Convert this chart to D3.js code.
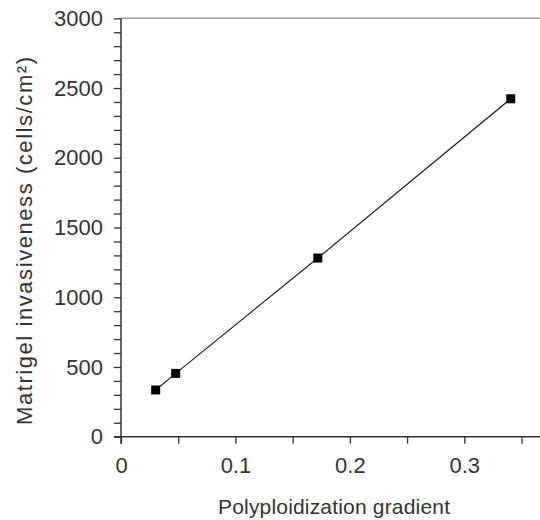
<!DOCTYPE html>
<html>
<head>
<meta charset="utf-8">
<script src="https://cdn.jsdelivr.net/npm/d3@7"></script>
<style>
    body { margin: 0; background: #fff; }
    text { font-family: "Liberation Sans", Arial, sans-serif; fill: #333; }
</style>
</head>
<body>
<div id="chart"></div>
<script>
// values
var gradient = [0.0303, 0.0478, 0.172, 0.3406];
var invasiveness = [335, 454, 1281, 2423];
var xTicks = [0, 0.05, 0.1, 0.15, 0.2, 0.25, 0.3, 0.35];
var xTickLabels = ["0", "", "0.1", "", "0.2", "", "0.3", ""];
var yTicks = d3.range(0, 3001, 100);
var yLabelEvery = 500;
var xTitle = "Polyploidization gradient";
var yTitle = "Matrigel invasiveness (cells/cm\u00b2)";

var width = 540, height = 520;

var svg = d3.select("#chart").append("svg")
    .attr("width", width)
    .attr("height", height);

var xscale = d3.scaleLinear().domain([0, 0.35]).range([121, 521.5]);
var yscale = d3.scaleLinear().domain([0, 3000]).range([436.7, 18.3]);

// top frame line
svg.append("line")
    .attr("x1", xscale(0)).attr("x2", width)
    .attr("y1", yscale(3000)).attr("y2", yscale(3000))
    .attr("stroke", "#999").attr("stroke-width", 1.5);

// y axis
var yAxis = d3.axisLeft(yscale)
    .tickValues(yTicks)
    .tickSize(7)
    .tickPadding(11)
    .tickFormat(function (d) { return d % yLabelEvery === 0 ? d : ""; });

var gy = svg.append("g")
    .attr("transform", "translate(" + xscale(0) + ",0)")
    .call(yAxis);
gy.select(".domain").remove();
gy.selectAll("line").attr("stroke", "#333").attr("stroke-width", 1.3);
gy.selectAll("text")
    .style("font-size", "22px")
    .attr("fill", "#333");

// x axis
var xAxis = d3.axisBottom(xscale)
    .tickValues(xTicks)
    .tickSize(7)
    .tickPadding(14)
    .tickFormat(function (d, i) { return xTickLabels[i]; });

var gx = svg.append("g")
    .attr("transform", "translate(0," + yscale(0) + ")")
    .call(xAxis);
gx.select(".domain").remove();
gx.selectAll("line").attr("stroke", "#333").attr("stroke-width", 1.3);
gx.selectAll("text")
    .style("font-size", "22px")
    .attr("fill", "#333");

// axis lines, crossing a little at the origin
svg.append("line")
    .attr("x1", xscale(0)).attr("x2", xscale(0))
    .attr("y1", yscale(3000)).attr("y2", yscale(0) + 7)
    .attr("stroke", "#333").attr("stroke-width", 1.5);
svg.append("line")
    .attr("x1", xscale(0) - 7).attr("x2", width)
    .attr("y1", yscale(0)).attr("y2", yscale(0))
    .attr("stroke", "#333").attr("stroke-width", 1.5);

// the line through the points
var points = gradient.map(function (g, i) { return [g, invasiveness[i]]; });
var line = d3.line()
    .x(function (d) { return xscale(d[0]); })
    .y(function (d) { return yscale(d[1]); });

svg.append("path")
    .datum(points)
    .attr("d", line)
    .attr("fill", "none")
    .attr("stroke", "#222")
    .attr("stroke-width", 1.2);

// square markers
svg.append("g").selectAll("rect")
    .data(points)
    .enter()
    .append("rect")
    .attr("x", function (d) { return xscale(d[0]) - 4.5; })
    .attr("y", function (d) { return yscale(d[1]) - 4.5; })
    .attr("width", 9)
    .attr("height", 9)
    .attr("fill", "#000");

// axis titles
svg.append("text")
    .attr("x", 334)
    .attr("y", 514)
    .attr("text-anchor", "middle")
    .style("font-size", "21px")
    .attr("textLength", 232)
    .attr("lengthAdjust", "spacing")
    .text(xTitle);

svg.append("text")
    .attr("transform", "translate(32,241) rotate(-90)")
    .attr("text-anchor", "middle")
    .style("font-size", "22px")
    .attr("textLength", 368)
    .attr("lengthAdjust", "spacing")
    .text(yTitle);
</script>
</body>
</html>
